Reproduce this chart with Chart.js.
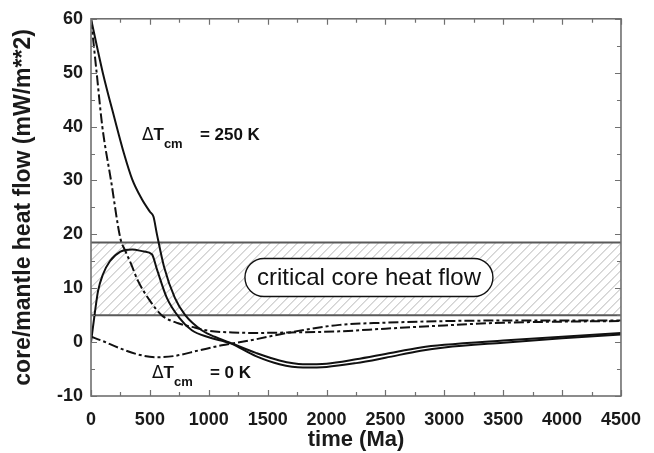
<!DOCTYPE html>
<html>
<head>
<meta charset="utf-8">
<script src="https://cdn.jsdelivr.net/npm/chart.js@4/dist/chart.umd.min.js"></script>
<style>
body { margin: 0; background: #fff; }
</style>
</head>
<body>
<canvas id="heatChart" width="654" height="453"></canvas>
<script>
// solid curve, dT_cm = 250 K (starts at 60)
var timeSolidHot = [0, 100, 200, 280, 350, 430, 500, 530, 560, 620, 712, 800, 940, 1050, 1180, 1400, 1600, 1800, 2000, 2250, 2500, 2800, 3000, 3500, 4000, 4500];
var flowSolidHot = [60, 50, 41.5, 35, 30.2, 26.6, 24.2, 23.3, 20, 14, 8.2, 5, 2.2, 1, -0.1, -2.0, -3.4, -4.1, -4.0, -3.2, -2.2, -1.0, -0.5, 0.3, 1.0, 1.7];

// solid curve, dT_cm = 0 K (starts at 0)
var timeSolidCold = [0, 30, 60, 100, 160, 250, 350, 450, 517, 560, 644, 750, 856, 1000, 1180, 1400, 1600, 1800, 2000, 2250, 2500, 2800, 3000, 3500, 4000, 4500];
var flowSolidCold = [0, 5, 9.5, 12.5, 15, 16.8, 17.2, 16.8, 16.3, 13.5, 8.2, 4.5, 2.2, 0.9, -0.2, -2.6, -4.1, -4.7, -4.6, -3.9, -2.9, -1.6, -1.0, -0.1, 0.7, 1.4];

// dash-dot curve, dT_cm = 250 K
var timeDashHot = [0, 48, 96, 170, 250, 290, 340, 398, 500, 600, 740, 880, 1000, 1200, 1400, 1700, 2110, 2500, 3000, 3500, 4000, 4500];
var flowDashHot = [60, 50, 40, 30, 19.2, 17, 14.5, 11.4, 7.7, 5, 3.5, 2.7, 2.1, 1.8, 1.7, 1.8, 2.0, 2.5, 3.1, 3.6, 3.8, 3.9];

// dash-dot curve, dT_cm = 0 K
var timeDashCold = [0, 100, 229, 400, 560, 700, 924, 1110, 1347, 1686, 2110, 2500, 3000, 3466, 4000, 4500];
var flowDashCold = [1.0, 0.2, -1.0, -2.3, -2.8, -2.6, -1.5, -0.6, 0.3, 1.8, 3.2, 3.6, 3.9, 4.0, 4.0, 4.0];

// critical core heat flow band
var bandLow = 5;
var bandHigh = 18.5;

var xTicks = [0, 500, 1000, 1500, 2000, 2500, 3000, 3500, 4000, 4500];
var yTicks = [-10, 0, 10, 20, 30, 40, 50, 60];

function toPoints(xs, ys) {
    return xs.map(function(x, i) { return { x: x, y: ys[i] }; });
}

var frameColor = '#707070';

var figurePlugin = {
    id: 'figureExtras',
    beforeDatasetsDraw: function(chart) {
        var ctx = chart.ctx;
        var xs = chart.scales.x, ys = chart.scales.y;
        var x0 = xs.getPixelForValue(0), x1 = xs.getPixelForValue(4500);
        var yTop = ys.getPixelForValue(bandHigh), yBot = ys.getPixelForValue(bandLow);

        // hatched band
        ctx.save();
        ctx.beginPath();
        ctx.rect(x0, yTop, x1 - x0, yBot - yTop);
        ctx.clip();
        ctx.strokeStyle = '#b5b5b5';
        ctx.lineWidth = 1;
        var h = yBot - yTop;
        for (var x = x0 - h; x < x1 + h; x += 9) {
            ctx.beginPath();
            ctx.moveTo(x, yBot);
            ctx.lineTo(x + h, yTop);
            ctx.stroke();
        }
        ctx.restore();

        ctx.save();
        ctx.strokeStyle = '#5a5a5a';
        ctx.lineWidth = 2;
        ctx.beginPath();
        ctx.moveTo(x0, yTop); ctx.lineTo(x1, yTop);
        ctx.moveTo(x0, yBot); ctx.lineTo(x1, yBot);
        ctx.stroke();
        ctx.restore();
    },
    afterDatasetsDraw: function(chart) {
        var ctx = chart.ctx;
        var xs = chart.scales.x, ys = chart.scales.y;
        var area = chart.chartArea;

        // inward ticks on all four sides
        ctx.save();
        ctx.strokeStyle = frameColor;
        ctx.lineWidth = 1.2;
        ctx.beginPath();
        for (var t = 0; t <= 4500; t += 250) {
            var px = Math.round(xs.getPixelForValue(t)) + 0.5;
            var len = (t % 500 === 0) ? 6 : 4;
            ctx.moveTo(px, area.bottom); ctx.lineTo(px, area.bottom - len);
            ctx.moveTo(px, area.top); ctx.lineTo(px, area.top + len);
        }
        for (var v = -10; v <= 60; v += 5) {
            var py = Math.round(ys.getPixelForValue(v)) + 0.5;
            var l2 = (v % 10 === 0) ? 6 : 4;
            ctx.moveTo(area.left, py); ctx.lineTo(area.left + l2, py);
            ctx.moveTo(area.right, py); ctx.lineTo(area.right - l2, py);
        }
        ctx.stroke();
        ctx.lineWidth = 1.6;
        ctx.strokeRect(area.left, area.top, area.right - area.left, area.bottom - area.top);
        ctx.restore();

        // label box
        var cx = xs.getPixelForValue(2360);
        var cy = ys.getPixelForValue(12);
        var bw = 248, bh = 38, r = 19;
        ctx.save();
        ctx.beginPath();
        ctx.roundRect(cx - bw / 2, cy - bh / 2, bw, bh, r);
        ctx.fillStyle = '#fff';
        ctx.fill();
        ctx.strokeStyle = '#111';
        ctx.lineWidth = 1.4;
        ctx.stroke();
        ctx.fillStyle = '#111';
        ctx.font = '24px "Liberation Sans", Arial, sans-serif';
        ctx.textAlign = 'center';
        ctx.textBaseline = 'middle';
        ctx.fillText('critical core heat flow', cx, cy + 1);
        ctx.restore();

        drawDelta(ctx, xs.getPixelForValue(432), ys.getPixelForValue(37.5), '= 250 K');
        drawDelta(ctx, xs.getPixelForValue(517), ys.getPixelForValue(-6.7), '= 0 K');
    }
};

function drawDelta(ctx, x, y, rest) {
    ctx.save();
    ctx.fillStyle = '#111';
    ctx.textBaseline = 'alphabetic';
    ctx.textAlign = 'left';
    ctx.font = '17px "DejaVu Sans", sans-serif';
    ctx.fillText('\u0394', x, y);
    var w = ctx.measureText('\u0394').width;
    ctx.font = 'bold 17px "Liberation Sans", Arial, sans-serif';
    ctx.fillText('T', x + w, y);
    var wt = ctx.measureText('T').width;
    ctx.font = 'bold 13px "Liberation Sans", Arial, sans-serif';
    ctx.fillText('cm', x + w + wt, y + 8);
    ctx.font = 'bold 17px "Liberation Sans", Arial, sans-serif';
    ctx.fillText(rest, x + 58, y);
    ctx.restore();
}

var lineBase = {
    borderColor: '#111',
    borderWidth: 2,
    pointRadius: 0,
    fill: false,
    cubicInterpolationMode: 'monotone'
};

var ctx = document.getElementById('heatChart').getContext('2d');
var myChart = new Chart(ctx, {
    type: 'line',
    data: {
        datasets: [
            Object.assign({ label: 'solid 250 K', data: toPoints(timeSolidHot, flowSolidHot) }, lineBase),
            Object.assign({ label: 'solid 0 K', data: toPoints(timeSolidCold, flowSolidCold) }, lineBase),
            Object.assign({ label: 'dash 250 K', data: toPoints(timeDashHot, flowDashHot), borderDash: [10, 3, 3, 3] }, lineBase),
            Object.assign({ label: 'dash 0 K', data: toPoints(timeDashCold, flowDashCold), borderDash: [10, 3, 3, 3] }, lineBase)
        ]
    },
    options: {
        responsive: false,
        animation: false,
        devicePixelRatio: 1,
        layout: { padding: { top: 16, right: 32, left: 0, bottom: 0 } },
        plugins: {
            legend: { display: false },
            tooltip: { enabled: false }
        },
        scales: {
            x: {
                type: 'linear',
                min: 0,
                max: 4500,
                afterBuildTicks: function(scale) {
                    scale.ticks = xTicks.map(function(v) { return { value: v }; });
                },
                afterFit: function(scale) { scale.height = 57; },
                grid: { display: false, drawTicks: false },
                border: { display: false },
                ticks: {
                    padding: 13,
                    color: '#1a1a1a',
                    maxRotation: 0,
                    callback: function(value) { return String(value); },
                    font: { family: '"Liberation Sans", Arial, sans-serif', size: 18, weight: 'bold' }
                },
                title: {
                    display: true,
                    text: 'time (Ma)',
                    color: '#1a1a1a',
                    padding: { top: 0, bottom: 0 },
                    font: { family: '"Liberation Sans", Arial, sans-serif', size: 22, weight: 'bold' }
                }
            },
            y: {
                min: -10,
                max: 60,
                afterBuildTicks: function(scale) {
                    scale.ticks = yTicks.map(function(v) { return { value: v }; });
                },
                afterFit: function(scale) { scale.width = 91; },
                grid: { display: false, drawTicks: false },
                border: { display: false },
                ticks: {
                    padding: 8,
                    color: '#1a1a1a',
                    font: { family: '"Liberation Sans", Arial, sans-serif', size: 18, weight: 'bold' }
                },
                title: {
                    display: true,
                    text: 'core/mantle heat flow (mW/m**2)',
                    color: '#1a1a1a',
                    padding: { top: 10, bottom: 0 },
                    font: { family: '"Liberation Sans", Arial, sans-serif', size: 23, weight: 'bold' }
                }
            }
        }
    },
    plugins: [figurePlugin]
});
</script>
</body>
</html>
